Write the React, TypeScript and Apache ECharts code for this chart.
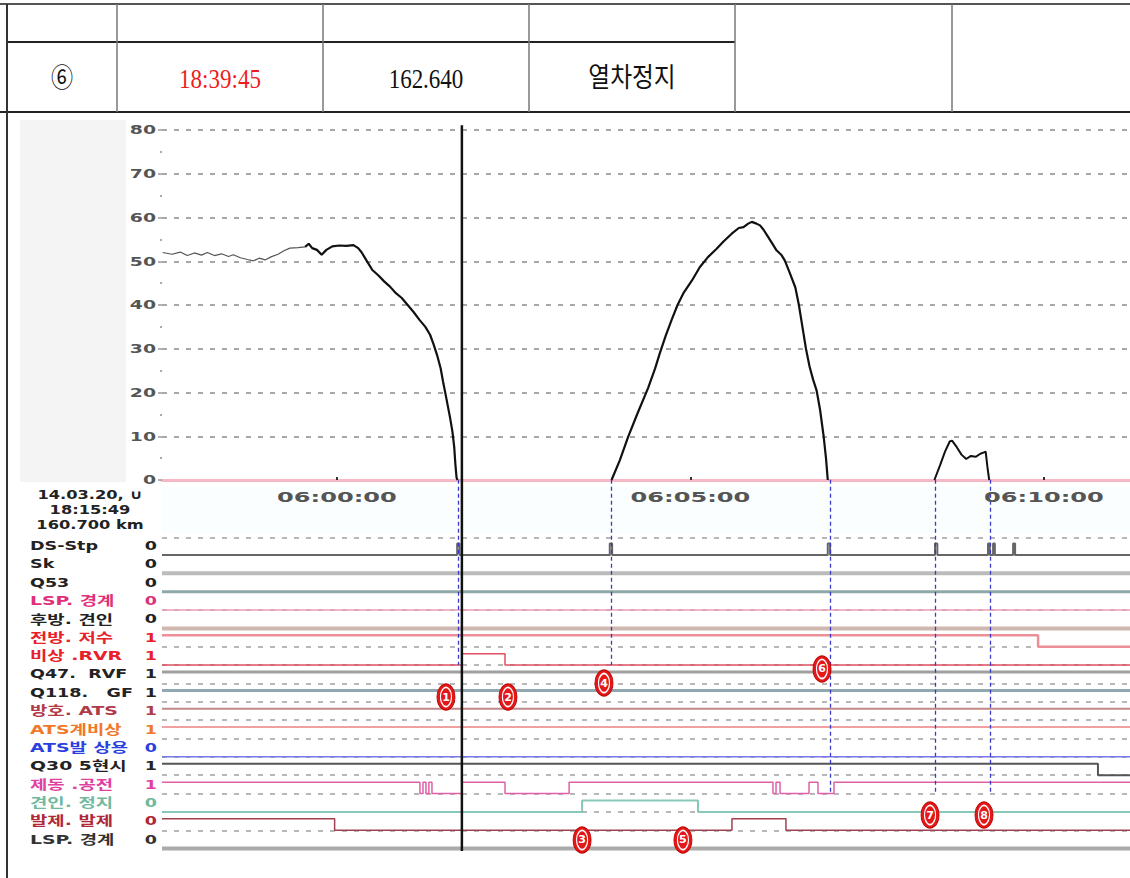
import React, { useEffect, useRef } from "react";
import * as echarts from "echarts";

// ---------- data ----------
const headerCells = ["⑥", "18:39:45", "162.640", "열차정지"];
const recordInfo = ["14.03.20, ∪", "18:15:49", "160.700 km"];

const speedTicks = [0, 10, 20, 30, 40, 50, 60, 70, 80];
const timeTickValues = [0, 300, 600]; // seconds after 06:00:00
const timeTickLabels = ["06:00:00", "06:05:00", "06:10:00"];
const tMin = -148.5;
const tMax = 673;

// speed (km/h) vs time (s after 06:00:00)
const speedCoast: [number, number][] = [
  [-148, 52], [-140, 51.6], [-133, 52.1], [-127, 51.3], [-121, 51.9], [-115, 51.4],
  [-110, 52], [-104, 51.3], [-98, 51.7], [-92, 51.1], [-88, 51.5], [-82, 50.8],
  [-76, 50.4], [-71, 50.1], [-66, 50.7], [-61, 50.3], [-56, 51], [-50, 51.6],
  [-45, 52.4], [-40, 53], [-33, 53.1], [-27, 53.3],
];
const speedBrake: [number, number][] = [
  [-27, 53.3], [-24, 54], [-21, 53], [-17, 52.6], [-13, 51.5], [-9, 52.6], [-4, 53.4],
  [2, 53.6], [8, 53.5], [14, 53.7], [18, 53], [21, 52], [25, 50.2], [30, 48], [35, 46.8],
  [40, 45.4], [45, 44.2], [50, 42.7], [55, 41.6], [60, 40], [65, 38.4], [70, 36.6],
  [75, 35], [79, 33.2], [82, 31], [85, 28.5], [88, 25.5], [90, 22.5], [92, 19.8],
  [94, 17], [96, 14.2], [98, 11], [99.5, 7.5], [100.5, 3.5], [101.5, 0.5], [102.3, 0],
];
const speedRun2: [number, number][] = [
  [233, 0], [240, 4.5], [247, 9.8], [255, 15.2], [264, 21], [270, 25.5], [274, 29],
  [279, 33], [284, 36.6], [289, 40], [294, 42.7], [301, 45.5], [308, 48.7], [315, 51],
  [322, 52.8], [328, 54.5], [335, 56.3], [341, 57.6], [345, 57.8], [349, 58.6], [352, 59],
  [356, 58.6], [359, 58.2], [362, 57.2], [366, 55.5], [370, 53.8], [373, 52.5], [377, 51.5],
  [380, 50.2], [384, 47.5], [389, 44], [392, 40], [395, 35], [398, 30], [401, 26],
  [404, 23], [407, 20.5], [410, 16], [413, 10], [415, 5], [416.5, 0],
];
const speedRun3: [number, number][] = [
  [507, 0], [512, 3.5], [516, 6.5], [520, 8.8], [522, 9], [526, 7.5], [530, 5.8],
  [534, 4.8], [538, 5.5], [542, 5.3], [546, 6], [549, 6.3], [550.5, 6.5], [552, 3], [553.5, 0],
];

// digital signals
const signalNames = [
  "DS-Stp", "Sk", "Q53", "LSP. 경계", "후방. 견인", "전방. 저수", "비상 .RVR", "Q47.  RVF",
  "Q118.   GF", "방호. ATS", "ATS계비상", "ATS발 상용", "Q30 5현시", "제동 .공전", "견인. 정지",
  "발제. 발제", "LSP. 경계",
];
const signalValues = ["0", "0", "0", "0", "0", "1", "1", "1", "1", "1", "1", "0", "1", "1", "0", "0", "0"];
// change points [time, state]
const signalChanges: [number, number][][] = [
  [[tMin, 0], [102, 1], [104, 0], [231.5, 1], [233.5, 0], [416.5, 1], [418.5, 0], [507.5, 1], [509.5, 0],
   [552.5, 1], [554, 0], [556.8, 1], [558.3, 0], [573.8, 1], [575.5, 0]],
  [[tMin, 0]],
  [[tMin, 0]],
  [[tMin, 0]],
  [[tMin, 0]],
  [[tMin, 1], [595, 0]],
  [[tMin, 0], [106, 1], [142.6, 0]],
  [[tMin, 1]],
  [[tMin, 1]],
  [[tMin, 1]],
  [[tMin, 1]],
  [[tMin, 0]],
  [[tMin, 1], [645.8, 0]],
  [[tMin, 1], [70.4, 0], [73, 1], [75.5, 0], [78, 1], [80.6, 0], [106, 1], [142.6, 0], [197, 1],
   [370, 0], [372.6, 1], [376, 0], [400.6, 1], [408.2, 0], [421.8, 1]],
  [[tMin, 0], [208, 1], [306.4, 0]],
  [[tMin, 1], [-2, 0], [335.2, 1], [381, 0]],
  [[tMin, 0]],
];

const cursorTime = 106;
const eventTimes = [102.7, 232.5, 419, 507.5, 554];
const eventEndRows = [6, 6, 13, 13, 13];
const markerLabels = ["1", "2", "3", "4", "5", "6", "7", "8"];
const markerTimes = [92.5, 145.1, 208, 226.6, 293.6, 411.6, 503.3, 549.1];
const markerRows = [7.74, 7.74, 15.53, 6.98, 15.53, 6.21, 14.17, 14.17];

// ---------- styles ----------
const FONT = '"DejaVu Sans", "Noto Sans CJK KR", sans-serif';
const SERIF = '"Liberation Serif", "Noto Sans CJK KR", serif';
const labelColors = [
  "#222", "#222", "#222", "#e0307a", "#222", "#e8202a", "#e8202a", "#222", "#222", "#b03a48",
  "#f07828", "#2a40e0", "#222", "#e040a0", "#70b8a0", "#b02838", "#333",
];
const lineColors = [
  "#666", "#bbbbbb", "#8fa8a8", "#e8a0b8", "#d0b8b0", "#ee8e98", "#e05060", "#a0a0a0",
  "#90a8b0", "#c08888", "#f0a0a0", "#7878e8", "#555", "#e060a8", "#88c8b8", "#a04050", "#aaaaaa",
];
const lineWidths = [2, 4, 3, 1.5, 4, 2.5, 1.5, 3, 3, 2, 2, 1.5, 2, 1.5, 2, 1.5, 4];
const HIGH_OFFSET = -0.62;
const SIG_MIN = -4.1;
const SIG_MAX = 17;

function buildOption(): any {
  const series: any[] = [];
  const line = (data: any, color: string, width: number, extra: any = {}) => ({
    type: "line",
    data,
    symbol: "none",
    lineStyle: { color, width },
    silent: true,
    ...extra,
  });

  series.push(line(speedCoast, "#555", 1.2, { xAxisIndex: 0, yAxisIndex: 0 }));
  series.push(line(speedBrake, "#111", 2.2, { xAxisIndex: 0, yAxisIndex: 0 }));
  series.push(line(speedRun2, "#111", 2.2, { xAxisIndex: 0, yAxisIndex: 0 }));
  series.push(line(speedRun3, "#111", 2, { xAxisIndex: 0, yAxisIndex: 0 }));
  series.push(
    line([[cursorTime, 81.1], [cursorTime, 0]], "#111", 2.5, { xAxisIndex: 0, yAxisIndex: 0, clip: false, z: 5 })
  );

  // reference dashed lines in signal panel
  const refRows = [-0.93, ...signalNames.map((_, i) => i)];
  series.push({
    type: "lines",
    coordinateSystem: "cartesian2d",
    xAxisIndex: 1,
    yAxisIndex: 1,
    silent: true,
    z: 1,
    lineStyle: { color: "#a0a0a0", width: 1.6, type: [5, 7], opacity: 1 },
    data: refRows.map((r) => ({ coords: [[tMin, r], [tMax, r]] })),
  });

  signalChanges.forEach((changes, i) => {
    const pts = changes.map(([t, s]) => [t, i + (s ? HIGH_OFFSET : 0)]);
    pts.push([tMax, pts[pts.length - 1][1]]);
    series.push(
      line(pts, lineColors[i], lineWidths[i], { xAxisIndex: 1, yAxisIndex: 1, step: "end", z: 2 })
    );
  });

  series.push({
    type: "lines",
    coordinateSystem: "cartesian2d",
    xAxisIndex: 1,
    yAxisIndex: 1,
    silent: true,
    z: 4,
    lineStyle: { color: "#3a3ac8", width: 1.3, type: [4, 3], opacity: 1 },
    data: eventTimes.map((t, i) => ({ coords: [[t, SIG_MIN], [t, eventEndRows[i]]] })),
  });

  series.push(
    line([[cursorTime, SIG_MIN], [cursorTime, 16.13]], "#111", 2.5, { xAxisIndex: 1, yAxisIndex: 1, z: 5 })
  );

  const markerData = markerTimes.map((t, i) => [t, markerRows[i]]);
  series.push({
    type: "scatter",
    xAxisIndex: 1,
    yAxisIndex: 1,
    silent: true,
    z: 10,
    symbol: "circle",
    symbolSize: [18, 26],
    itemStyle: { color: "#e41818", borderColor: "#c00000", borderWidth: 1, opacity: 1 },
    data: markerData,
  });
  series.push({
    type: "scatter",
    xAxisIndex: 1,
    yAxisIndex: 1,
    silent: true,
    z: 11,
    symbol: "circle",
    symbolSize: [11, 19],
    itemStyle: { color: "#e41818", borderColor: "#ffffff", borderWidth: 1.4, opacity: 1 },
    label: {
      show: true,
      position: "inside",
      formatter: (p: any) => markerLabels[p.dataIndex],
      color: "#ffffff",
      fontWeight: "bold",
      fontSize: 11,
      fontFamily: FONT,
    },
    data: markerData,
  });

  return {
    animation: false,
    backgroundColor: "#ffffff",
    grid: [
      { left: 162, width: 968, top: 130, height: 350, outerBoundsMode: "none", containLabel: false },
      { left: 162, width: 968, top: 555 + SIG_MIN * 18.35, height: (SIG_MAX - SIG_MIN) * 18.35, outerBoundsMode: "none", containLabel: false },
    ],
    xAxis: [
      {
        type: "value",
        gridIndex: 0,
        min: tMin,
        max: tMax,
        axisLine: { show: true, onZero: false, lineStyle: { color: "#f5b7c3", width: 3 } },
        axisTick: {
          show: true,
          customValues: timeTickValues,
          inside: true,
          length: 3,
          lineStyle: { color: "#333", width: 2 },
        },
        axisLabel: { show: false },
        splitLine: { show: false },
      },
      { type: "value", gridIndex: 1, min: tMin, max: tMax, show: false },
    ],
    yAxis: [
      {
        type: "value",
        gridIndex: 0,
        min: 0,
        max: 80,
        interval: 10,
        axisLine: { show: false, onZero: false },
        axisTick: { show: true, length: 4, lineStyle: { color: "#999", width: 1.5 } },
        minorTick: { show: true, splitNumber: 2, length: 2, lineStyle: { color: "#aaa", width: 2 } },
        axisLabel: { show: false },
        splitLine: { show: true, lineStyle: { color: "#a8a8a8", width: 1.8, type: [5, 7] } },
      },
      { type: "value", gridIndex: 1, min: SIG_MIN, max: SIG_MAX, inverse: true, show: false },
    ],
    series,
  };
}

function txt(text: string, x: number, y: number, opts: any = {}) {
  const align = opts.align || "left";
  return {
    type: "text",
    x,
    y,
    scaleX: opts.scaleX ?? 1,
    z: 100,
    silent: true,
    style: {
      text,
      fill: opts.fill || "#333",
      fontSize: opts.fontSize || 13,
      fontWeight: opts.fontWeight || "bold",
      fontFamily: opts.fontFamily || FONT,
      align,
      verticalAlign: "middle",
      textAlign: align,
      textVerticalAlign: "middle",
    },
  };
}

function hline(x1: number, y1: number, x2: number, y2: number, stroke: string, lineWidth: number) {
  return { type: "line", silent: true, z: 50, shape: { x1, y1, x2, y2 }, style: { stroke, lineWidth } };
}

function buildGraphic(chart: any): any[] {
  const px = (t: number) => chart.convertToPixel({ xAxisIndex: 0 }, t);
  const pyS = (v: number) => chart.convertToPixel({ yAxisIndex: 0 }, v);
  const pyR = (r: number) => chart.convertToPixel({ yAxisIndex: 1 }, r);
  const els: any[] = [];

  // backgrounds
  els.push({ type: "rect", silent: true, z: -5, shape: { x: 20, y: 120, width: 106, height: 362 }, style: { fill: "#f4f4f4" } });
  els.push({ type: "rect", silent: true, z: -5, shape: { x: 162, y: 486, width: 968, height: 48 }, style: { fill: "#fafefe" } });

  // table
  const colX = [7, 117, 323, 529, 735, 952];
  els.push(hline(0, 4, 1130, 4, "#555", 2));
  els.push(hline(7, 42, 735, 42, "#222", 2));
  els.push(hline(0, 112, 1130, 112, "#222", 2));
  els.push(hline(7, 4, 7, 878, "#333", 2));
  colX.slice(1).forEach((x) => els.push(hline(x, 4, x, 112, "#777", 1.5)));
  const cellCenters = [62, 220, 426, 632];
  headerCells.forEach((t, i) => {
    els.push({
      ...txt(t, cellCenters[i], 78, {
        align: "center",
        fontSize: i === 0 ? 24 : 25,
        fontWeight: "normal",
        fontFamily: SERIF,
        fill: i === 1 ? "#ee1c1c" : "#111",
      }),
      scaleX: i === 3 ? 0.95 : 0.92,
      scaleY: 1.1,
    });
  });

  // speed axis labels
  speedTicks.forEach((v) => {
    els.push(txt(String(v), 156, pyS(v), { align: "right", scaleX: 1.45, fill: "#555" }));
  });
  // time labels
  timeTickValues.forEach((t, i) => {
    els.push(txt(timeTickLabels[i], px(t), 497, { align: "center", scaleX: 1.72, fontSize: 14, fill: "#555" }));
  });
  // record info
  const infoY = [494, 509, 524];
  recordInfo.forEach((s, i) => {
    els.push(txt(s, 90, infoY[i], { align: "center", scaleX: 1.25, fill: "#222", fontSize: 13 }));
  });
  // signal labels
  signalNames.forEach((name, i) => {
    const y = pyR(i - 0.5);
    const hasHangul = /[\uac00-\ud7a3]/.test(name);
    els.push(txt(name, 30, y, { scaleX: hasHangul ? 1.45 : 1.35, fill: labelColors[i], fontSize: 13 }));
    els.push(txt(signalValues[i], 157, y, { align: "right", scaleX: 1.35, fill: labelColors[i], fontSize: 13 }));
  });
  return els;
}

export default function App() {
  const ref = useRef<HTMLDivElement>(null);
  useEffect(() => {
    if (!ref.current) return;
    const chart = echarts.init(ref.current, null, { renderer: "svg" });
    chart.setOption(buildOption());
    chart.setOption({ graphic: buildGraphic(chart) });
    return () => chart.dispose();
  }, []);
  return (
    <div
      ref={ref}
      style={{ position: "absolute", left: 0, top: 0, width: 1130, height: 878, background: "#fff" }}
    />
  );
}
